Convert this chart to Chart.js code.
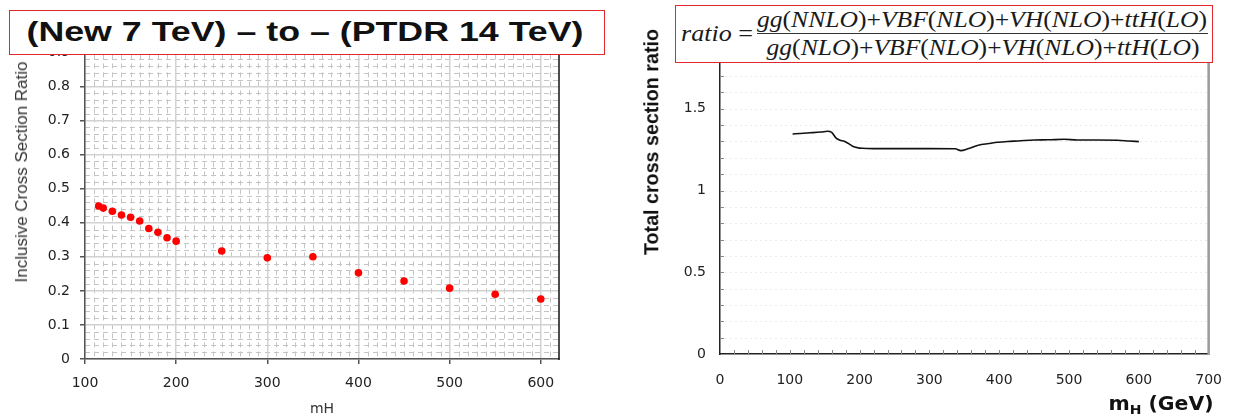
<!DOCTYPE html>
<html><head><meta charset="utf-8">
<script src="https://cdn.jsdelivr.net/npm/chart.js@4.4.1/dist/chart.umd.min.js"></script>
<style>
html,body{margin:0;padding:0;background:#fff;width:1240px;height:418px;overflow:hidden;}
#wrap{position:relative;width:1240px;height:418px;}
canvas{position:absolute;top:0;}
#cL{left:0;width:620px;height:418px;}
#cR{left:620px;width:620px;height:418px;}
.ov{position:absolute;white-space:nowrap;line-height:1;}
.math{font-family:"Liberation Serif","Times New Roman",serif;font-size:23px;color:#1a1a1a;}
.math i{font-style:italic;}
</style></head>
<body><div id="wrap">
<canvas id="cL" width="620" height="418"></canvas>
<canvas id="cR" width="620" height="418"></canvas>

<div id="titleBox" class="ov" style="left:9px;top:10px;width:596px;height:45px;box-sizing:border-box;border:1.5px solid #e0282e;background:#fff;"></div>
<div id="titleTxt" class="ov" style="font-family:'Liberation Sans',Arial,sans-serif;font-weight:bold;font-size:27px;color:#111;">(New 7 TeV) – to – (PTDR 14 TeV)</div>

<div id="lYTitle" class="ov" style="font-family:'Liberation Sans',Arial,sans-serif;font-size:16px;color:#333;">Inclusive Cross Section Ratio</div>

<div id="fbox" class="ov" style="left:675px;top:5px;width:538px;height:58px;box-sizing:border-box;border:1.5px solid #e0282e;background:#fff;"></div>
<div id="flhs" class="ov math"><i>ratio</i> =</div>
<div id="fnum" class="ov math"><i>gg</i>(<i>NNLO</i>)+<i>VBF</i>(<i>NLO</i>)+<i>VH</i>(<i>NLO</i>)+<i>ttH</i>(<i>LO</i>)</div>
<div id="fbar" class="ov" style="left:757px;top:33px;width:451px;height:1px;background:#333;"></div>
<div id="fden" class="ov math"><i>gg</i>(<i>NLO</i>)+<i>VBF</i>(<i>NLO</i>)+<i>VH</i>(<i>NLO</i>)+<i>ttH</i>(<i>LO</i>)</div>

<div id="rYTitle" class="ov" style="font-family:'Liberation Sans',Arial,sans-serif;font-weight:bold;font-size:19.5px;color:#111;">Total cross section ratio</div>
<div id="rXTitle" class="ov" style="font-family:'DejaVu Sans',sans-serif;font-weight:bold;font-size:19px;color:#111;">m<sub style="font-size:13px;vertical-align:-4px;">H</sub> (GeV)</div>
</div>

<script>
// ---------------- data ----------------
const leftMassGeV = [115,120,130,140,150,160,170,180,190,200,250,300,350,400,450,500,550,600];
const leftRatio   = [0.449,0.443,0.434,0.423,0.416,0.405,0.383,0.372,0.356,0.346,0.317,0.297,0.300,0.253,0.229,0.208,0.190,0.176];
const leftXTicks  = [100,200,300,400,500,600];
const leftYTicks  = [0,0.1,0.2,0.3,0.4,0.5,0.6,0.7,0.8,0.9,1];

const rightMassGeV = [104,115,125,133,145,154,160,166,172,178,185,190,197,204,220,256,300,337,345,355,370,385,398,412,427,450,470,493,512,540,569,585,600];
const rightRatio   = [1.346,1.349,1.352,1.354,1.358,1.362,1.356,1.322,1.308,1.301,1.285,1.271,1.262,1.258,1.256,1.256,1.256,1.255,1.244,1.255,1.277,1.287,1.295,1.300,1.303,1.309,1.310,1.313,1.309,1.309,1.307,1.303,1.299];
const rightXTicks  = [0,100,200,300,400,500,600,700];
const rightYTicks  = [0,0.5,1,1.5,2];

// ---------------- helpers ----------------
function line(ctx,x1,y1,x2,y2){ctx.beginPath();ctx.moveTo(x1,y1);ctx.lineTo(x2,y2);ctx.stroke();}
function fitCentered(id,cx,cy,target,rot){
  const el=document.getElementById(id);
  const w=el.getBoundingClientRect().width;
  const k=target/w;
  el.style.left=cx+'px'; el.style.top=cy+'px';
  el.style.transform='translate(-50%,-50%)'+(rot?' rotate(-90deg)':'')+' scaleX('+k+')';
  return k;
}

// ---------------- left chart ----------------
const leftPlugin={
  id:'leftMinor',
  beforeDraw(chart){
    const {ctx,chartArea:a,scales:{x,y}}=chart;
    ctx.save();
    ctx.strokeStyle='#c4c4c4';ctx.lineWidth=1;ctx.setLineDash([5,4]);
    for(let v=110;v<620;v+=10){ if(v%100===0) continue; const px=Math.round(x.getPixelForValue(v))+0.5; line(ctx,px,a.top,px,a.bottom);}
    for(let i=1;i<50;i++){ if(i%5===0) continue; const py=Math.round(y.getPixelForValue(i*0.02))+0.5; line(ctx,a.left,py,a.right,py);}
    ctx.restore();
  },
  afterDraw(chart){
    const {ctx,chartArea:a}=chart;
    ctx.save();ctx.strokeStyle='#111';ctx.lineWidth=1.5;
    line(ctx,a.right,a.top,a.right,a.bottom+1);
    ctx.restore();
  }
};

new Chart(document.getElementById('cL'),{
  type:'scatter',
  data:{datasets:[{
    data:leftMassGeV.map((m,i)=>({x:m,y:leftRatio[i]})),
    backgroundColor:'#ff0000',borderColor:'#ff0000',borderWidth:0,
    pointRadius:3.8,pointHoverRadius:3.8
  }]},
  options:{
    responsive:false,animation:false,devicePixelRatio:1,
    plugins:{legend:{display:false},tooltip:{enabled:false}},
    layout:{padding:{left:0,top:11,right:61,bottom:0}},
    scales:{
      x:{type:'linear',min:100,max:620,
        afterBuildTicks:s=>{s.ticks=leftXTicks.map(v=>({value:v}));},
        afterFit:s=>{s.height=59;},
        grid:{color:'#d2d2d2',lineWidth:1.5,drawTicks:true,tickLength:5,tickColor:'#555'},
        border:{display:true,color:'#555',width:1.5},
        ticks:{padding:11,color:'#222',font:{family:'DejaVu Sans',size:14},maxRotation:0},
        title:{display:true,text:'mH',color:'#333',font:{family:'DejaVu Sans',size:14},padding:{top:0,bottom:0}}
      },
      y:{type:'linear',min:0,max:1,
        afterBuildTicks:s=>{s.ticks=leftYTicks.map(v=>({value:v}));},
        afterFit:s=>{s.width=85;},
        grid:{color:'#d2d2d2',lineWidth:1.5,drawTicks:true,tickLength:5,tickColor:'#555'},
        border:{display:true,color:'#555',width:1.5},
        ticks:{padding:10,color:'#222',font:{family:'DejaVu Sans',size:14},callback:v=>String(Math.round(v*10)/10)}
      }
    }
  },
  plugins:[leftPlugin]
});

// ---------------- right chart ----------------
const rightPlugin={
  id:'rightMinor',
  beforeDraw(chart){
    const {ctx,chartArea:a,scales:{y}}=chart;
    ctx.save();ctx.strokeStyle='#ececec';ctx.lineWidth=1;ctx.setLineDash([2,3]);
    for(let i=1;i<20;i++){const py=Math.round(y.getPixelForValue(i*0.1))+0.5; line(ctx,a.left,py,a.right,py);}
    ctx.restore();
  },
  afterDraw(chart){
    const {ctx,chartArea:a,scales:{x,y}}=chart;
    ctx.save();
    ctx.strokeStyle='#888';ctx.lineWidth=1;
    for(let i=1;i<20;i++){const py=Math.round(y.getPixelForValue(i*0.1))+0.5; line(ctx,a.left,py,a.left+4,py);}
    for(let v=20;v<700;v+=20){const px=Math.round(x.getPixelForValue(v))+0.5; line(ctx,px,a.bottom,px,a.bottom-4);}
    ctx.strokeStyle='#9a9a9a';ctx.lineWidth=2.5;
    line(ctx,a.right,a.top,a.right,a.bottom+1);
    line(ctx,a.left,a.top,a.right,a.top);
    ctx.restore();
  }
};

new Chart(document.getElementById('cR'),{
  type:'line',
  data:{datasets:[{
    data:rightMassGeV.map((m,i)=>({x:m,y:rightRatio[i]})),
    borderColor:'#111',borderWidth:1.6,pointRadius:0,fill:false,cubicInterpolationMode:'monotone'
  }]},
  options:{
    responsive:false,animation:false,devicePixelRatio:1,
    plugins:{legend:{display:false},tooltip:{enabled:false}},
    layout:{padding:{left:0,top:27,right:28,bottom:0}},
    scales:{
      x:{type:'linear',min:0,max:700,
        afterBuildTicks:s=>{s.ticks=rightXTicks.map(v=>({value:v}));},
        afterFit:s=>{s.height=64;},
        grid:{display:false,drawTicks:false},
        border:{display:true,color:'#222',width:1.5},
        ticks:{padding:18,color:'#222',font:{family:'DejaVu Sans',size:14},maxRotation:0}
      },
      y:{type:'linear',min:0,max:2,
        afterBuildTicks:s=>{s.ticks=rightYTicks.map(v=>({value:v}));},
        afterFit:s=>{s.width=100;},
        grid:{display:false,drawTicks:false},
        border:{display:true,color:'#222',width:1.5},
        ticks:{padding:14,color:'#222',font:{family:'DejaVu Sans',size:14},callback:v=>String(v)}
      }
    }
  },
  plugins:[rightPlugin]
});

// ---------------- overlay text placement ----------------
fitCentered('titleTxt',305,32,557,false);
fitCentered('lYTitle',22,172,221,true);
fitCentered('rYTitle',652,142,226,true);
fitCentered('rXTitle',1161,405,105,false);
fitCentered('flhs',717,33,72,false);
const k=fitCentered('fnum',982,19,450,false);
(function(){const el=document.getElementById('fden');el.style.left='983px';el.style.top='47px';el.style.transform='translate(-50%,-50%) scaleX('+k+')';})();
</script>
</body></html>
